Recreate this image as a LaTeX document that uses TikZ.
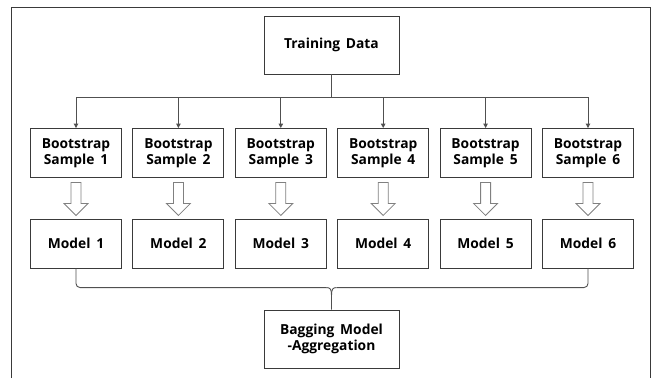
\documentclass[tikz,border=0pt]{standalone}
\usepackage{fontspec}
\setmainfont{Open Sans}
\usetikzlibrary{calc,arrows.meta}
\definecolor{boxline}{HTML}{3A3A3A}
\definecolor{connline}{HTML}{505050}
\definecolor{hollowline}{HTML}{808080}
\newcommand{\wsp}{\hspace{0.42em}}
\begin{document}
\begin{tikzpicture}[x=1pt,y=-1pt,
  font=\fontsize{13.8}{16}\selectfont\bfseries,
  box/.style={draw=boxline, line width=0.9pt, align=center, inner sep=0pt,
    minimum width=91pt, minimum height=49pt, fill=white},
  bigbox/.style={box, minimum width=135pt, minimum height=58pt},
  conn/.style={draw=connline, line width=0.9pt},
  tip/.style={-{Triangle[length=4.5pt,width=4.5pt]}},
  hollow/.style={draw=hollowline, line width=0.8pt, fill=white, line join=miter}]
\useasboundingbox (0,0) rectangle (659,378);
% outer frame (open at the bottom)
\draw[draw=boxline, line width=1pt] (11,378) -- (11,7) -- (650,7) -- (650,378);

\node[bigbox] (td) at (331.5,45) {Training\wsp Data};
\node[bigbox] (agg) at (331.5,339) {Bagging\wsp Model\\-Aggregation};

\foreach \i in {1,...,6}{
  \pgfmathsetmacro{\cx}{76+102.4*(\i-1)}
  \node[box] (b\i) at (\cx,153) {Bootstrap\\Sample\wsp\i};
  \node[box] (m\i) at (\cx,243.5) {Model\wsp\i};
}

% tree from training data
\coordinate (split) at (331.5,97);
\draw[conn] (td.south) -- (split);
\draw[conn] (b1.north |- split) -- (b6.north |- split);
\foreach \i in {1,...,6}{
  \draw[conn,tip] (b\i.north |- split) -- (b\i.north);
}

% hollow arrows
\foreach \i in {1,...,6}{
  \draw[hollow] ($(b\i.south)+(-5,4.5)$) -- ++(0,21) -- ++(-7,0) -- ++(12,12)
     -- ++(12,-12) -- ++(-7,0) -- ++(0,-21) -- cycle;
}

% brace to aggregation
\coordinate (bt) at ($(agg.north)+(0,-22)$);
\draw[conn, rounded corners=4pt] (m1.south) |- ($(bt)+(-5,0)$);
\draw[conn, rounded corners=4pt] (m6.south) |- ($(bt)+(5,0)$);
\draw[conn] ($(bt)+(-5,0)$) .. controls ($(bt)+(-1,0)$) and ($(bt)+(0,2)$) .. ($(bt)+(0,8)$) -- (agg.north);
\draw[conn] ($(bt)+(5,0)$) .. controls ($(bt)+(1,0)$) and ($(bt)+(0,2)$) .. ($(bt)+(0,8)$);
\end{tikzpicture}
\end{document}
